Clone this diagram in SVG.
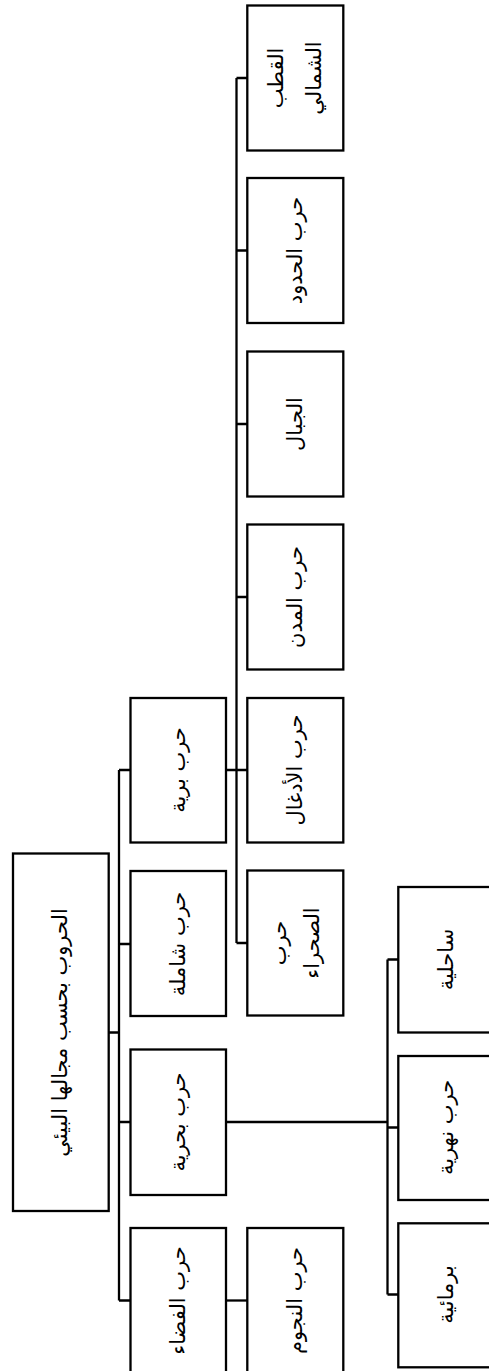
<svg xmlns="http://www.w3.org/2000/svg" width="489" height="1371" viewBox="0 0 489 1371">
<style>
.box{fill:#fff;stroke:#000;stroke-width:2.3}
.ln{fill:none;stroke:#000;stroke-width:2.3}
text{font-family:"DejaVu Sans",sans-serif;font-size:21px;fill:#000;text-anchor:middle;dominant-baseline:central}
</style>
<rect width="489" height="1371" fill="#fff"/>
<g id="connectors">
<path class="ln" d="M108.7,1032.5H119M119,770V1300.5M119,770H130.5M119,944H130.5M119,1122H130.5M119,1300.5H130.5"/>
<path class="ln" d="M226,770H247M236.5,78V943M236.5,78H247M236.5,250.5H247M236.5,424H247M236.5,597H247M236.5,943H247"/>
<path class="ln" d="M226,1300.5H247"/>
<path class="ln" d="M226,1122H387.5M387.5,959.5V1294.5M387.5,959.5H398.3M387.5,1127.5H398.3M387.5,1294.5H398.3"/>
</g>
<g id="root"><rect class="box" x="13" y="853.5" width="95.7" height="357.5"/><text transform="translate(60,1032.5) rotate(-90)">الحروب بحسب مجالها البيئي</text></g>
<g id="n-barriya"><rect class="box" x="130.5" y="698" width="95.5" height="144.5"/><text transform="translate(178,770) rotate(-90)">حرب برية</text></g>
<g id="n-shamila"><rect class="box" x="130.5" y="871" width="95.5" height="145"/><text transform="translate(178,944) rotate(-90)">حرب شاملة</text></g>
<g id="n-bahriya"><rect class="box" x="130.5" y="1049.5" width="95.5" height="145.5"/><text transform="translate(178,1122) rotate(-90)">حرب بحرية</text></g>
<g id="n-fadaa"><rect class="box" x="130.5" y="1228" width="95.5" height="145"/><text transform="translate(178,1300.5) rotate(-90)">حرب الفضاء</text></g>
<g id="n-qutb"><rect class="box" x="247.3" y="5.5" width="96" height="145"/><text transform="translate(276,78) rotate(-90)">القطب</text><text transform="translate(314,78) rotate(-90)">الشمالي</text></g>
<g id="n-hudud"><rect class="box" x="247.3" y="178" width="96" height="145"/><text transform="translate(295,250.5) rotate(-90)">حرب الحدود</text></g>
<g id="n-jibal"><rect class="box" x="247.3" y="351.5" width="96" height="145"/><text transform="translate(295,424) rotate(-90)">الجبال</text></g>
<g id="n-mudun"><rect class="box" x="247.3" y="524.5" width="96" height="145"/><text transform="translate(295,597) rotate(-90)">حرب المدن</text></g>
<g id="n-adghal"><rect class="box" x="247.3" y="698" width="96" height="144.5"/><text transform="translate(295,770) rotate(-90)">حرب الأدغال</text></g>
<g id="n-sahraa"><rect class="box" x="247.3" y="870.5" width="96" height="145"/><text transform="translate(279,943) rotate(-90)">حرب</text><text transform="translate(312,943) rotate(-90)">الصحراء</text></g>
<g id="n-nujum"><rect class="box" x="247.3" y="1228" width="96" height="145"/><text transform="translate(295,1300.5) rotate(-90)">حرب النجوم</text></g>
<g id="n-sahiliya"><rect class="box" x="398.3" y="887" width="96" height="145.5"/><text transform="translate(446,959.5) rotate(-90)">ساحلية</text></g>
<g id="n-nahriya"><rect class="box" x="398.3" y="1056" width="96" height="144"/><text transform="translate(446,1127.5) rotate(-90)">حرب نهرية</text></g>
<g id="n-barmaiya"><rect class="box" x="398.3" y="1223.3" width="96" height="144"/><text transform="translate(446,1294.5) rotate(-90)">برمائية</text></g>
</svg>
